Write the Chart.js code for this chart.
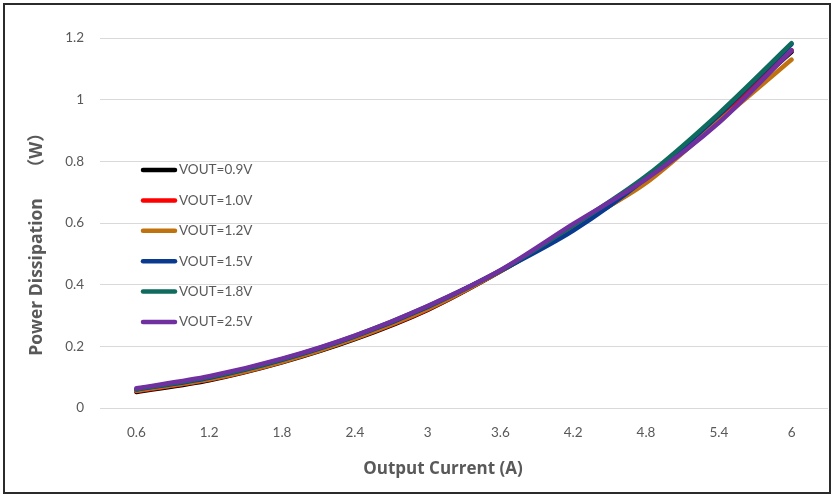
<!DOCTYPE html>
<html>
<head>
<meta charset="utf-8">
<script src="https://cdn.jsdelivr.net/npm/chart.js@4.4.1/dist/chart.umd.min.js"></script>
<style>
html,body{margin:0;padding:0;background:#fff;}
#wrap{position:relative;width:833px;height:495px;}
</style>
</head>
<body>
<div id="wrap"><canvas id="c" width="833" height="495"></canvas></div>
<script>
const categories = ['0.6','1.2','1.8','2.4','3','3.6','4.2','4.8','5.4','6'];
const yTicks = [0, 0.2, 0.4, 0.6, 0.8, 1, 1.2];
const seriesLabels = ['VOUT=0.9V','VOUT=1.0V','VOUT=1.2V','VOUT=1.5V','VOUT=1.8V','VOUT=2.5V'];
const vout09 = [0.052, 0.090, 0.148, 0.223, 0.318, 0.443, 0.585, 0.735, 0.945, 1.155];
const vout10 = [0.055, 0.092, 0.150, 0.226, 0.320, 0.444, 0.588, 0.738, 0.940, 1.160];
const vout12 = [0.056, 0.093, 0.150, 0.226, 0.321, 0.444, 0.587, 0.730, 0.930, 1.130];
const vout15 = [0.060, 0.098, 0.156, 0.232, 0.328, 0.445, 0.575, 0.745, 0.950, 1.180];
const vout18 = [0.061, 0.100, 0.158, 0.234, 0.330, 0.446, 0.592, 0.752, 0.955, 1.183];
const vout25 = [0.064, 0.103, 0.160, 0.235, 0.331, 0.447, 0.597, 0.742, 0.925, 1.160];
const seriesValues = [vout09, vout10, vout12, vout15, vout18, vout25];
const seriesColors = ['#000000','#FF0000','#C0720F','#0A3A8F','#0F6B5E','#7030A0'];

const datasets = seriesValues.map((v,i)=>({
  label: seriesLabels[i],
  data: v,
  borderColor: seriesColors[i],
  backgroundColor: seriesColors[i],
  borderWidth: 4.5,
  pointRadius: 0,
  tension: 0.3,
  borderCapStyle: 'round',
  borderJoinStyle: 'round',
  fill: false,
  order: seriesValues.length - i
}));

const TXT = '#595959';

const decor = {
  id: 'decor',
  afterDraw(chart){
    const ctx = chart.ctx;
    ctx.save();
    // frame
    ctx.strokeStyle = '#2b2b2b';
    ctx.lineWidth = 2;
    ctx.strokeRect(4, 4, 826, 489);
    // legend
    ctx.font = '13.5px Lato, "Liberation Sans", sans-serif';
    ctx.textBaseline = 'middle';
    ctx.textAlign = 'left';
    chart.data.datasets.forEach((ds,i)=>{
      const y = 170 + i*30.4;
      ctx.strokeStyle = ds.borderColor;
      ctx.lineWidth = 4.5;
      ctx.lineCap = 'round';
      ctx.beginPath();
      ctx.moveTo(143, y);
      ctx.lineTo(175, y);
      ctx.stroke();
      ctx.fillStyle = TXT;
      ctx.fillText(ds.label, 179, y);
    });
    // axis titles
    ctx.fillStyle = TXT;
    ctx.font = 'bold 17px "Open Sans", "Noto Sans CJK SC", sans-serif';
    ctx.textAlign = 'center';
    ctx.fillText('Output Current (A)', 443, 469);
    ctx.save();
    ctx.translate(37, 240);
    ctx.rotate(-Math.PI/2);
    ctx.font = 'bold 17.5px "Open Sans", "Noto Sans CJK SC", sans-serif';
    ctx.fillText('Power Dissipation　 （W）', 0, 0);
    ctx.restore();
    ctx.restore();
  }
};

new Chart(document.getElementById('c'), {
  type: 'line',
  data: { labels: categories, datasets },
  options: {
    responsive: false,
    animation: false,
    devicePixelRatio: 1,
    layout: { padding: { top: 38, right: 5, left: 0, bottom: 0 } },
    plugins: { legend: { display: false }, tooltip: { enabled: false } },
    scales: {
      x: {
        type: 'category',
        offset: true,
        grid: { display: false, drawTicks: false },
        border: { display: false },
        ticks: { color: TXT, font: { family: 'Lato', size: 13.5 }, padding: 17, maxRotation: 0 },
        afterFit(s){ s.height = 87; }
      },
      y: {
        min: 0, max: 1.2,
        afterBuildTicks(s){ s.ticks = yTicks.map(v=>({value:v})); },
        grid: { color: '#d9d9d9', lineWidth: 1, drawTicks: false },
        border: { display: false },
        ticks: { color: TXT, font: { family: 'Lato', size: 13.5 }, padding: 16,
                 callback: v => String(v) },
        afterFit(s){ s.width = 100; }
      }
    }
  },
  plugins: [decor]
});
</script>
</body>
</html>
